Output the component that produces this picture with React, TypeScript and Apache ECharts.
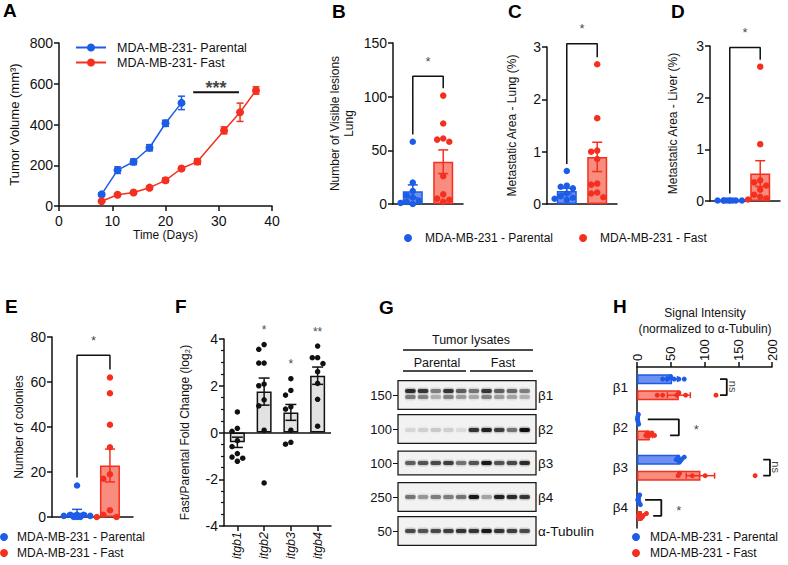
import { useEffect, useRef } from 'react';
import * as echarts from 'echarts';

const FONT = '"Liberation Sans", Arial, Helvetica, sans-serif';
const INK = '#111111';
const BLUE = '#1D5CE6';
const RED = '#F52F1F';
const BLUE_FILL = '#6E90F0';
const RED_FILL = '#F88C7E';
const GREY_FILL = '#E2E2E2';
const PAR = 'MDA-MB-231 - Parental';
const FAST = 'MDA-MB-231 - Fast';

// ---------- A: tumor growth ----------
const daysParental = [8, 11, 14, 17, 20, 23];
const volumeParental = [57, 176, 217, 286, 406, 506];
const volumeParentalSem = [8, 16, 14, 15, 15, 33];
const daysFast = [8, 11, 14, 17, 20, 23, 26, 31, 34, 37];
const volumeFast = [23, 55, 66, 90, 126, 184, 218, 371, 460, 567];
const volumeFastSem = [4, 5, 5, 6, 11, 7, 14, 17, 45, 18];
const sigA = { from: 25.2, to: 33.8, y: 558, label: '***' };

// ---------- B: visible lung lesions ----------
const lesionsParental = [58, 20, 12, 8, 6, 3, 2, 1, 0];
const lesionsFast = [101, 75, 61, 60, 58, 26, 9, 5, 4, 2];
const lesionsMean = [11.8, 39.4];
const lesionsSem = [6, 11];

// ---------- C: metastatic area lung ----------
const lungAreaParental = [0.63, 0.35, 0.33, 0.3, 0.2, 0.15, 0.12, 0.1, 0.08];
const lungAreaFast = [2.67, 1.64, 1.02, 1.0, 0.86, 0.39, 0.37, 0.22, 0.2, 0.13];
const lungAreaMean = [0.25, 0.9];
const lungAreaSem = [0.05, 0.28];

// ---------- D: metastatic area liver ----------
const liverAreaParental = [0.01, 0.01, 0.01, 0.01, 0.01, 0.01, 0.01, 0.01, 0.01];
const liverAreaFast = [2.6, 1.1, 0.4, 0.36, 0.3, 0.22, 0.12, 0.08, 0.05, 0.03];
const liverAreaMean = [0.01, 0.53];
const liverAreaSem = [0, 0.25];

// ---------- E: colonies ----------
const coloniesParental = [14, 1, 1, 1, 0.5, 0.5, 0, 0, 0];
const coloniesFast = [62, 55, 41, 31, 19, 17, 3, 1, 0, 0];
const coloniesMean = [1.9, 22.9];
const coloniesSem = [1.5, 7.3];

const sigTops = [119, 3.06, 2.97, 71.9];

// ---------- F: integrin fold change ----------
const genes = ['itgb1', 'itgb2', 'itgb3', 'itgb4'];
const foldMean = [-0.42, 1.75, 0.86, 2.43];
const foldSem = [0.22, 0.58, 0.34, 0.37];
const foldItgb1 = [0.88, 0.18, 0.05, -0.35, -0.6, -0.9, -1.05, -1.1, -1.23];
const foldItgb2 = [3.76, 3.56, 2.97, 2.97, 2.07, 2.0, 1.4, 1.14, 0.1, -2.16];
const foldItgb3 = [2.3, 1.8, 1.6, 1.1, 1.0, 0.1, -0.42, -0.5];
const foldItgb4 = [3.7, 3.2, 3.2, 2.95, 2.6, 2.1, 1.42, 0.27];
const foldStars = ['', '*', '*', '**'];

// ---------- G: western blot ----------
const lanes = ['P1', 'P2', 'P3', 'P4', 'P5', 'F1', 'F2', 'F3', 'F4', 'F5'];
const blotRows = ['β1', 'β2', 'β3', 'β4', 'α-Tubulin'];
const mwLabels = ['150', '100', '100', '250', '50'];
const bandB1 = [0.85, 0.8, 0.45, 0.8, 0.6, 0.5, 0.8, 0.6, 0.55, 0.45];
const bandB2 = [0.1, 0.12, 0.15, 0.12, 0.08, 0.8, 0.9, 0.75, 0.5, 1.0];
const bandB3 = [0.6, 0.65, 0.7, 0.75, 0.5, 0.65, 0.95, 0.65, 0.7, 0.85];
const bandB4 = [0.5, 0.35, 0.45, 0.45, 0.5, 0.95, 0.3, 0.9, 0.85, 0.8];
const bandTub = [0.7, 0.65, 0.7, 0.75, 0.8, 0.8, 0.95, 0.8, 0.75, 0.7];

// ---------- H: signal intensity ----------
const hRows = ['β1', 'β2', 'β3', 'β4'];
const hParentalMean = [52, 2, 63, 3];
const hParentalSem = [8, 1, 3, 1.5];
const hFastMean = [62, 19, 94, 7];
const hFastSem = [17, 4, 21, 2.5];
const hParentalDots = [[38, 45, 50, 55, 62, 70], [0.5, 1, 1.5, 2, 2.5], [58, 61, 63, 66, 70], [1, 2, 3, 4, 5]];
const hFastDots = [[30, 38, 59, 62, 72, 117], [13, 15, 19, 22, 26], [61, 63, 82, 101, 175], [2, 4, 6, 9, 14]];
const hSig = [
  { x: 133, topFrom: 123, botFrom: 123, label: 'ns' },
  { x: 62, topFrom: 16, botFrom: 49, label: '*' },
  { x: 197, topFrom: 187, botFrom: 187, label: 'ns' },
  { x: 36, topFrom: 12, botFrom: 24, label: '*' },
];

// ---------- helpers ----------
function swarm(values: number[], tol: number): number[] {
  const placed: { v: number; s: number }[] = [];
  const order = [0, -1, 1, -2, 2, -0.5, 0.5, -1.5, 1.5];
  return values.map((v, i) => {
    const near = placed.filter((p) => Math.abs(p.v - v) < tol).map((p) => p.s);
    let slot = order.find((o) => near.every((n) => Math.abs(n - o) >= 0.9));
    if (slot === undefined) slot = ((i % 5) - 2) * 0.5;
    placed.push({ v, s: slot });
    return slot;
  });
}

function vErrorBar(colors: string[], capHalf: number) {
  return (params: any, api: any) => {
    const x = api.value(0), m = api.value(1), s = api.value(2);
    const hi = api.coord([x, m + s]);
    const lo = api.coord([x, m - s]);
    const style = { stroke: colors[params.dataIndex % colors.length], lineWidth: 1.5, fill: null };
    return {
      type: 'group',
      children: [
        { type: 'line', shape: { x1: hi[0], y1: hi[1], x2: lo[0], y2: lo[1] }, style },
        { type: 'line', shape: { x1: hi[0] - capHalf, y1: hi[1], x2: hi[0] + capHalf, y2: hi[1] }, style },
        { type: 'line', shape: { x1: lo[0] - capHalf, y1: lo[1], x2: lo[0] + capHalf, y2: lo[1] }, style },
      ],
    };
  };
}

function hErrorBar(color: string, capHalf: number) {
  return (_params: any, api: any) => {
    const m = api.value(0), y = api.value(1), s = api.value(2);
    const hi = api.coord([m + s, y]);
    const lo = api.coord([m - s, y]);
    const style = { stroke: color, lineWidth: 1.5, fill: null };
    return {
      type: 'group',
      children: [
        { type: 'line', shape: { x1: lo[0], y1: lo[1], x2: hi[0], y2: hi[1] }, style },
        { type: 'line', shape: { x1: hi[0], y1: hi[1] - capHalf, x2: hi[0], y2: hi[1] + capHalf }, style },
        { type: 'line', shape: { x1: lo[0], y1: lo[1] - capHalf, x2: lo[0], y2: lo[1] + capHalf }, style },
      ],
    };
  };
}

const axLine = { show: true, onZero: false, lineStyle: { color: INK, width: 1.5 } };
const axTick = { show: true, length: 5, lineStyle: { color: INK, width: 1.5 } };
const axLabel = { color: INK, fontSize: 14, fontFamily: FONT };
const nameStyle = { color: INK, fontSize: 12, fontFamily: FONT };

function buildOption() {
  const grid: any[] = [
    { left: 59, top: 43, width: 213, height: 163 }, // A
    { left: 393, top: 43, width: 70, height: 161 }, // B
    { left: 547, top: 47, width: 70, height: 157 }, // C
    { left: 710, top: 46, width: 70, height: 155 }, // D
    { left: 52, top: 337, width: 81, height: 180 }, // E
    { left: 224, top: 339, width: 107, height: 187 }, // F
    { left: 404, top: 378, width: 127, height: 170 }, // G
    { left: 637, top: 367, width: 135, height: 161 }, // H
  ];
  const xAxis: any[] = [];
  const yAxis: any[] = [];
  const series: any[] = [];

  // ---- A ----
  xAxis.push({
    type: 'value', gridIndex: 0, min: 0, max: 40, interval: 10,
    axisLine: axLine, axisTick: axTick, axisLabel: { ...axLabel, margin: 8 }, splitLine: { show: false },
    name: 'Time (Days)', nameLocation: 'middle', nameGap: 22, nameTextStyle: nameStyle,
  });
  yAxis.push({
    type: 'value', gridIndex: 0, min: 0, max: 800, interval: 200,
    axisLine: axLine, axisTick: axTick, axisLabel: { ...axLabel, margin: 6 }, splitLine: { show: false },
    name: 'Tumor Volume (mm³)', nameLocation: 'middle', nameGap: 38, nameTextStyle: { ...nameStyle, fontSize: 13 },
  });
  const aGroups = [
    { name: 'MDA-MB-231- Parental', days: daysParental, vol: volumeParental, sem: volumeParentalSem, color: BLUE },
    { name: 'MDA-MB-231- Fast', days: daysFast, vol: volumeFast, sem: volumeFastSem, color: RED },
  ];
  aGroups.forEach((g) => {
    series.push({
      type: 'custom', xAxisIndex: 0, yAxisIndex: 0, z: 3, silent: true,
      renderItem: vErrorBar([g.color], 3.5),
      data: g.days.map((d, i) => [d, g.vol[i], g.sem[i]]),
    });
    series.push({
      type: 'line', name: g.name, xAxisIndex: 0, yAxisIndex: 0, z: 4,
      symbol: 'circle', symbolSize: 8, itemStyle: { color: g.color },
      lineStyle: { color: g.color, width: 1.5 },
      data: g.days.map((d, i) => [d, g.vol[i]]),
    });
  });
  series.push({
    type: 'line', xAxisIndex: 0, yAxisIndex: 0, symbol: 'none', silent: true, clip: false,
    lineStyle: { color: INK, width: 2 }, data: [[sigA.from, sigA.y], [sigA.to, sigA.y]],
  });
  series.push({
    type: 'scatter', xAxisIndex: 0, yAxisIndex: 0, symbolSize: 1, silent: true, clip: false,
    itemStyle: { color: 'transparent' }, data: [[(sigA.from + sigA.to) / 2, sigA.y]],
    label: { show: true, formatter: sigA.label, position: 'top', distance: -5, fontSize: 18, fontWeight: 'bold', color: INK },
  });

  // ---- B-E dot plots ----
  const dotPanels = [
    { parental: lesionsParental, fast: lesionsFast, mean: lesionsMean, sem: lesionsSem, max: 150, interval: 50, name: 'Number of Visible lesions\nLung', nameGap: 37, xMin: -0.65, xMax: 1.65 },
    { parental: lungAreaParental, fast: lungAreaFast, mean: lungAreaMean, sem: lungAreaSem, max: 3, interval: 1, name: 'Metastatic Area - Lung (%)', nameGap: 28, xMin: -0.65, xMax: 1.65 },
    { parental: liverAreaParental, fast: liverAreaFast, mean: liverAreaMean, sem: liverAreaSem, max: 3, interval: 1, name: 'Metastatic Area - Liver (%)', nameGap: 30, xMin: -0.65, xMax: 1.65 },
    { parental: coloniesParental, fast: coloniesFast, mean: coloniesMean, sem: coloniesSem, max: 80, interval: 20, name: 'Number of colonies', nameGap: 26, xMin: -0.76, xMax: 1.7 },
  ];
  dotPanels.forEach((p, j) => {
    const k = j + 1;
    xAxis.push({
      type: 'value', gridIndex: k, min: p.xMin, max: p.xMax,
      axisLine: axLine, axisTick: { show: false }, axisLabel: { show: false }, splitLine: { show: false },
    });
    yAxis.push({
      type: 'value', gridIndex: k, min: 0, max: p.max, interval: p.interval,
      axisLine: axLine, axisTick: axTick, axisLabel: { ...axLabel, margin: 6 }, splitLine: { show: false },
      name: p.name, nameLocation: 'middle', nameGap: p.nameGap, nameTextStyle: { ...nameStyle, lineHeight: 14 },
    });
    series.push({
      type: 'bar', xAxisIndex: k, yAxisIndex: k, barWidth: 20, z: 2, silent: true,
      data: [
        { value: [0, p.mean[0]], itemStyle: { color: BLUE_FILL, borderColor: BLUE, borderWidth: 1.5 } },
        { value: [1, p.mean[1]], itemStyle: { color: RED_FILL, borderColor: RED, borderWidth: 1.5 } },
      ],
    });
    series.push({
      type: 'custom', xAxisIndex: k, yAxisIndex: k, z: 3, silent: true,
      renderItem: vErrorBar([BLUE, RED], 5),
      data: [[0, p.mean[0], p.sem[0]], [1, p.mean[1], p.sem[1]]],
    });
    const tol = p.max * 0.04;
    const sp = swarm(p.parental, tol);
    const sf = swarm(p.fast, tol);
    series.push({
      type: 'scatter', name: PAR, xAxisIndex: k, yAxisIndex: k, symbolSize: 6.5, z: 4, clip: false,
      itemStyle: { color: BLUE, opacity: 1 }, data: p.parental.map((v, i) => [sp[i] * 0.2, v]),
    });
    series.push({
      type: 'scatter', name: FAST, xAxisIndex: k, yAxisIndex: k, symbolSize: 6.5, z: 4, clip: false,
      itemStyle: { color: RED, opacity: 1 }, data: p.fast.map((v, i) => [1 + sf[i] * 0.2, v]),
    });
    const gap = p.max * 0.045;
    const top = sigTops[j];
    series.push({
      type: 'line', xAxisIndex: k, yAxisIndex: k, symbol: 'none', silent: true, clip: false, z: 5,
      lineStyle: { color: INK, width: 1.5 },
      data: [[0, Math.max(...p.parental) + gap], [0, top], [1, top], [1, Math.max(...p.fast) + gap]],
    });
    series.push({
      type: 'scatter', xAxisIndex: k, yAxisIndex: k, symbolSize: 1, silent: true, clip: false,
      itemStyle: { color: 'transparent' }, data: [[0.5, top]],
      label: { show: true, formatter: '*', position: 'top', distance: 8, fontSize: 13, color: INK },
    });
  });

  // ---- F ----
  const foldDots = [foldItgb1, foldItgb2, foldItgb3, foldItgb4];
  xAxis.push({
    type: 'category', gridIndex: 5, data: genes,
    axisLine: axLine, axisTick: { ...axTick, alignWithLabel: true },
    axisLabel: { ...axLabel, fontSize: 12.5, rotate: 90, fontStyle: 'italic', margin: 6 },
  });
  xAxis.push({ type: 'value', gridIndex: 5, min: -0.5, max: 3.5, show: false });
  yAxis.push({
    type: 'value', gridIndex: 5, min: -4, max: 4, interval: 2,
    axisLine: axLine, axisTick: axTick, minorTick: { show: true, splitNumber: 4, length: 3, lineStyle: { color: INK, width: 1.2 } },
    axisLabel: { ...axLabel, margin: 6 }, splitLine: { show: false },
    name: 'Fast/Parental Fold Change (log₂)', nameLocation: 'middle', nameGap: 33, nameTextStyle: nameStyle,
  });
  series.push({
    type: 'bar', xAxisIndex: 5, yAxisIndex: 5, barWidth: 15, z: 2, silent: true,
    itemStyle: { color: GREY_FILL, borderColor: INK, borderWidth: 1.5 },
    data: foldMean,
    markLine: {
      silent: true, symbol: 'none', label: { show: false },
      lineStyle: { color: INK, width: 1.5, type: 'solid' }, data: [{ yAxis: 0 }],
    },
  });
  series.push({
    type: 'custom', xAxisIndex: 6, yAxisIndex: 5, z: 3, silent: true,
    renderItem: vErrorBar([INK], 5.5),
    data: foldMean.map((m, i) => [i, m, foldSem[i]]),
  });
  const fPts: number[][] = [];
  foldDots.forEach((vals, i) => {
    const s = swarm(vals, 0.32);
    vals.forEach((v, n) => fPts.push([i + s[n] * 0.2, v]));
  });
  series.push({
    type: 'scatter', xAxisIndex: 6, yAxisIndex: 5, symbolSize: 5.5, z: 4, silent: true,
    itemStyle: { color: INK, opacity: 1 }, data: fPts,
  });
  series.push({
    type: 'scatter', xAxisIndex: 6, yAxisIndex: 5, symbolSize: 1, silent: true, clip: false,
    itemStyle: { color: 'transparent' },
    data: foldDots.map((vals, i) => ({ value: [i, Math.max(...vals)], label: { formatter: foldStars[i] } })),
    label: { show: true, position: 'top', distance: 8, fontSize: 12, color: INK },
  });

  // ---- G ----
  xAxis.push({ type: 'category', gridIndex: 6, data: lanes, show: false });
  yAxis.push({
    type: 'category', gridIndex: 6, data: blotRows, inverse: true, position: 'left', offset: 6,
    axisLine: { show: false }, axisTick: { show: true, alignWithLabel: true, length: 5, lineStyle: { color: INK, width: 1 } },
    axisLabel: { ...axLabel, fontSize: 13, margin: 6, formatter: (_v: string, i: number) => mwLabels[i] },
  });
  yAxis.push({
    type: 'category', gridIndex: 6, data: blotRows, inverse: true, position: 'right', offset: 5,
    axisLine: { show: false }, axisTick: { show: false },
    axisLabel: { ...axLabel, fontSize: 13.5, margin: 2 },
  });
  series.push({
    type: 'custom', xAxisIndex: 7, yAxisIndex: 6, z: 1, silent: true,
    data: blotRows.map((_r, i) => [0, i]),
    renderItem: (_p: any, api: any) => {
      const row = api.value(1);
      const c0 = api.coord([0, row]);
      const c9 = api.coord([lanes.length - 1, row]);
      const sz = api.size([1, 1]);
      const h = sz[1] * (row === 2 ? 0.7 : 0.84);
      const x = c0[0] - sz[0] / 2 - 6;
      const w = c9[0] - c0[0] + sz[0] + 11;
      return {
        type: 'rect', shape: { x, y: c0[1] - h / 2, width: w, height: h },
        style: { fill: '#F2F2F2', stroke: '#1a1a1a', lineWidth: 1.3 },
      };
    },
  });
  const bandRows = [bandB1, bandB2, bandB3, bandB4, bandTub];
  const bandData: number[][] = [];
  bandRows.forEach((arr, r) => arr.forEach((v, l) => bandData.push([l, r, v])));
  series.push({
    type: 'custom', xAxisIndex: 7, yAxisIndex: 6, z: 2, silent: true,
    data: bandData,
    renderItem: (_p: any, api: any) => {
      const lane = api.value(0), row = api.value(1), v = api.value(2);
      const c = api.coord([lane, row]);
      const sz = api.size([1, 1]);
      const w = sz[0] * 0.84;
      const bands = row === 0 ? [[-4, v], [2, v * 0.55]] : [[row === 1 ? 1 : 0, v]];
      const children: any[] = [];
      bands.forEach(([o, a]) => {
        children.push({
          type: 'rect', shape: { x: c[0] - w / 2 - 0.5, y: c[1] + o - 3.5, width: w + 1, height: 7, r: 3 },
          style: { fill: `rgba(20,20,20,${(a * 0.25).toFixed(3)})` },
        });
        children.push({
          type: 'rect', shape: { x: c[0] - w / 2, y: c[1] + o - 2, width: w, height: 4, r: 2 },
          style: { fill: `rgba(15,15,15,${a.toFixed(3)})` },
        });
      });
      return { type: 'group', children };
    },
  });

  // ---- H ----
  xAxis.push({
    type: 'value', gridIndex: 7, position: 'top', min: 0, max: 200, interval: 50,
    axisLine: axLine, axisTick: axTick, axisLabel: { ...axLabel, fontSize: 13, rotate: -90, margin: 6 }, splitLine: { show: false },
  });
  yAxis.push({
    type: 'category', gridIndex: 7, data: hRows, inverse: true,
    axisLine: axLine, axisTick: { show: false }, axisLabel: { ...axLabel, fontSize: 13.5, margin: 9 },
  });
  yAxis.push({ type: 'value', gridIndex: 7, min: -0.5, max: 3.5, inverse: true, show: false });
  series.push({
    type: 'bar', xAxisIndex: 8, yAxisIndex: 8, barWidth: 10, barGap: '60%', z: 2, silent: true,
    itemStyle: { color: BLUE_FILL, borderColor: BLUE, borderWidth: 1.5 }, data: hParentalMean,
  });
  series.push({
    type: 'bar', xAxisIndex: 8, yAxisIndex: 8, barWidth: 10, barGap: '60%', z: 2, silent: true,
    itemStyle: { color: RED_FILL, borderColor: RED, borderWidth: 1.5 }, data: hFastMean,
  });
  const hGroups = [
    { name: PAR, mean: hParentalMean, sem: hParentalSem, dots: hParentalDots, color: BLUE, off: -0.2 },
    { name: FAST, mean: hFastMean, sem: hFastSem, dots: hFastDots, color: RED, off: 0.2 },
  ];
  hGroups.forEach((g) => {
    series.push({
      type: 'custom', xAxisIndex: 8, yAxisIndex: 9, z: 3, silent: true,
      renderItem: hErrorBar(g.color, 3),
      data: g.mean.map((m, i) => [m, i + g.off, g.sem[i]]),
    });
    const pts: number[][] = [];
    g.dots.forEach((vals, i) => {
      const s = swarm(vals, 6);
      vals.forEach((v, n) => pts.push([v, i + g.off + s[n] * 0.06]));
    });
    series.push({
      type: 'scatter', name: g.name, xAxisIndex: 8, yAxisIndex: 9, symbolSize: 5, z: 4, clip: false,
      itemStyle: { color: g.color, opacity: 1 }, data: pts,
    });
  });
  hSig.forEach((s, i) => {
    series.push({
      type: 'line', xAxisIndex: 8, yAxisIndex: 9, symbol: 'none', silent: true, clip: false, z: 5,
      lineStyle: { color: INK, width: 1.8 },
      data: [[s.topFrom, i - 0.2], [s.x, i - 0.2], [s.x, i + 0.2], [s.botFrom, i + 0.2]],
    });
    const isNs = s.label === 'ns';
    series.push({
      type: 'scatter', xAxisIndex: 8, yAxisIndex: 9, symbolSize: 1, silent: true, clip: false,
      itemStyle: { color: 'transparent' }, data: [[s.x, i]],
      label: {
        show: true, formatter: s.label, position: isNs ? [7, 0] : [18, 3],
        rotate: isNs ? -90 : 0, align: 'center', verticalAlign: 'middle',
        fontSize: isNs ? 11 : 13, color: INK,
      },
    });
  });

  const letter = (t: string, x: number, y: number) => ({
    type: 'text', x, y,
    style: { text: t, fontSize: 19, fontWeight: 'bold', fontFamily: FONT, fill: '#000', verticalAlign: 'middle', align: 'left' },
  });
  const txt = (t: string, x: number, y: number, size = 12) => ({
    type: 'text', x, y,
    style: { text: t, fontSize: size, fontFamily: FONT, fill: INK, verticalAlign: 'middle', align: 'center' },
  });
  const hline = (x1: number, x2: number, y: number) => ({
    type: 'line', shape: { x1, y1: y, x2, y2: y }, style: { stroke: INK, lineWidth: 1.5 },
  });

  const graphic = [
    letter('A', 3, 10), letter('B', 332, 11), letter('C', 508, 11), letter('D', 671, 11),
    letter('E', 5, 306), letter('F', 175, 306), letter('G', 379, 307), letter('H', 613, 306),
    txt('Tumor lysates', 471, 340, 12.5), hline(403, 533, 350),
    txt('Parental', 437, 363, 12.5), hline(403, 466, 371),
    txt('Fast', 503, 363, 12.5), hline(470, 533, 371),
    txt('Signal Intensity', 705, 313), txt('(normalized to α-Tubulin)', 705, 329),
  ];

  const legendBase = { selectedMode: false, padding: 0, textStyle: { color: INK, fontSize: 12, fontFamily: FONT } };
  const legend = [
    {
      ...legendBase, data: ['MDA-MB-231- Parental', 'MDA-MB-231- Fast'], orient: 'vertical', left: 75, top: 41,
      itemWidth: 30, itemHeight: 10, itemGap: 2,
      textStyle: { ...legendBase.textStyle, fontSize: 12.5, padding: [0, 0, 0, 6] },
    },
    { ...legendBase, data: [PAR, FAST], icon: 'circle', orient: 'horizontal', left: 404, top: 232, itemWidth: 24, itemHeight: 8, itemGap: 26 },
    { ...legendBase, data: [PAR, FAST], icon: 'circle', orient: 'vertical', left: 0, top: 531, height: 34, itemWidth: 16, itemHeight: 8, itemGap: 4 },
    { ...legendBase, data: [PAR, FAST], icon: 'circle', orient: 'vertical', left: 632, top: 531, height: 34, itemWidth: 18, itemHeight: 8, itemGap: 4 },
  ];

  return {
    animation: false,
    backgroundColor: '#ffffff',
    textStyle: { fontFamily: FONT, color: INK },
    grid, xAxis, yAxis, series, legend,
    graphic: { elements: graphic },
  };
}

export default function App() {
  const ref = useRef<HTMLDivElement>(null);
  useEffect(() => {
    if (!ref.current) return;
    const chart = echarts.init(ref.current, null, { renderer: 'svg', width: 788, height: 565 });
    chart.setOption(buildOption() as any);
    return () => chart.dispose();
  }, []);
  return (
    <div
      ref={ref}
      style={{ position: 'fixed', left: 0, top: 0, width: 788, height: 565, background: '#fff' }}
    />
  );
}
